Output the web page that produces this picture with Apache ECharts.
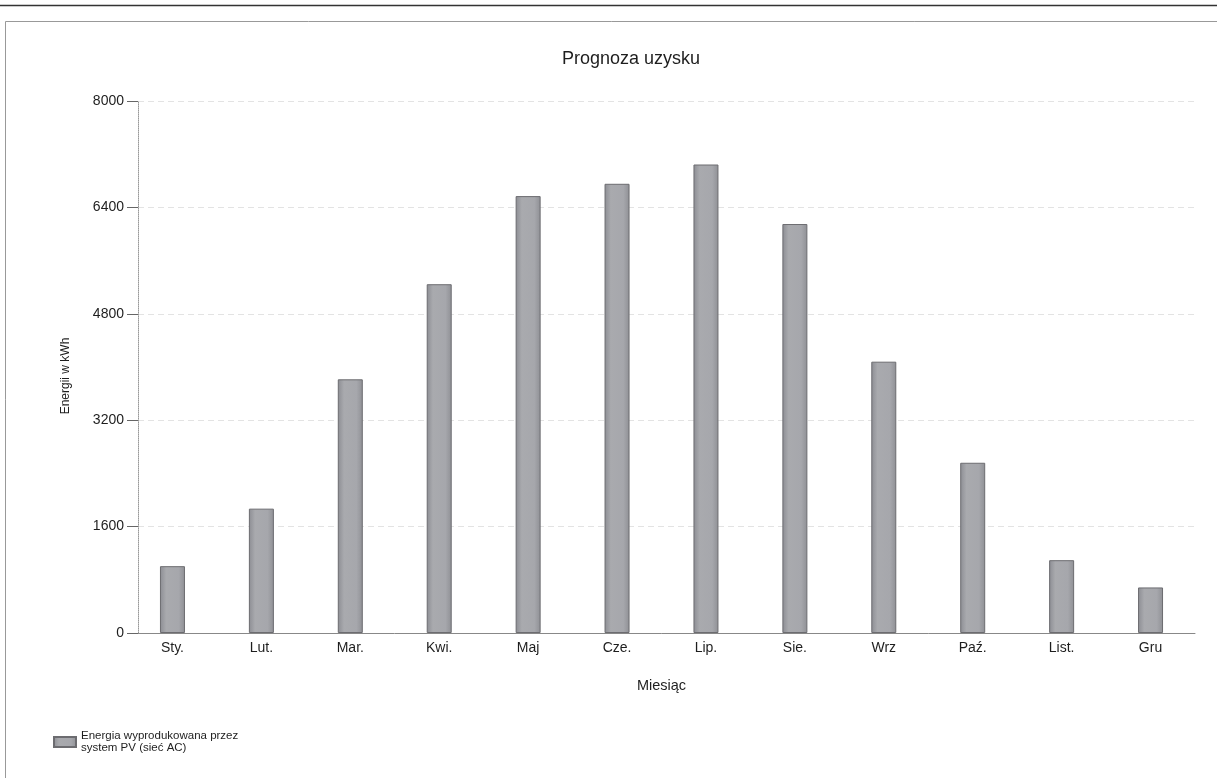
<!DOCTYPE html>
<html>
<head>
<meta charset="utf-8">
<title>Prognoza uzysku</title>
<script src="https://cdn.jsdelivr.net/npm/echarts@6/dist/echarts.min.js"></script>
<style>
  html, body { margin: 0; padding: 0; background: #fff; }
  #chart { width: 1217px; height: 778px; }
</style>
</head>
<body>
<div id="chart"></div>
<script>
// Monthly forecast of energy produced by the PV system (kWh)
const months = ['Sty.', 'Lut.', 'Mar.', 'Kwi.', 'Maj', 'Cze.', 'Lip.', 'Sie.', 'Wrz', 'Paź.', 'List.', 'Gru'];
const energyKWh = [1005, 1870, 3815, 5245, 6570, 6755, 7045, 6150, 4080, 2560, 1095, 685];
const yTicks = { min: 0, max: 8000, interval: 1600 };
const seriesName = 'Energia wyprodukowana przez\nsystem PV (sieć AC)';

const font = '"Liberation Sans", Arial, sans-serif';
const textColor = '#1e1e1e';

const chart = echarts.init(document.getElementById('chart'), null, { renderer: 'canvas' });

chart.setOption({
  backgroundColor: '#ffffff',
  animation: false,
  title: {
    text: 'Prognoza uzysku',
    left: 626,
    top: 45,
    textAlign: 'center',
    textStyle: { fontFamily: font, fontSize: 18, fontWeight: 'normal', color: textColor }
  },
  graphic: [
    // page frame lines
    { type: 'line', shape: { x1: 0, y1: 5.5, x2: 1217, y2: 5.5 }, style: { stroke: '#333', lineWidth: 1.5 }, silent: true },
    { type: 'line', shape: { x1: 5.5, y1: 21.5, x2: 1217, y2: 21.5 }, style: { stroke: '#999', lineWidth: 1 }, silent: true },
    { type: 'line', shape: { x1: 5.5, y1: 21.5, x2: 5.5, y2: 778 }, style: { stroke: '#999', lineWidth: 1 }, silent: true }
  ],
  legend: {
    left: 48,
    top: 725,
    orient: 'vertical',
    itemWidth: 22,
    itemHeight: 10,
    icon: 'rect',
    textStyle: { fontFamily: font, fontSize: 11.5, color: textColor, lineHeight: 12 },
    data: [seriesName]
  },
  grid: { left: 128, right: 22, top: 101, bottom: 145, containLabel: false },
  xAxis: {
    type: 'category',
    data: months,
    name: 'Miesiąc',
    nameLocation: 'middle',
    nameGap: 45,
    nameTextStyle: { fontFamily: font, fontSize: 14.5, color: textColor },
    axisLine: { lineStyle: { color: '#888', width: 1 } },
    axisTick: { alignWithLabel: true, length: 5, lineStyle: { color: '#999', type: 'dotted' } },
    axisLabel: { fontFamily: font, fontSize: 14, color: textColor, margin: 8 }
  },
  yAxis: {
    type: 'value',
    min: yTicks.min,
    max: yTicks.max,
    interval: yTicks.interval,
    offset: -10,
    name: 'Energii w kWh',
    nameLocation: 'middle',
    nameGap: 66,
    nameTextStyle: { fontFamily: font, fontSize: 12, color: textColor, padding: [0, 18, 0, 0] },
    axisLine: { show: true, lineStyle: { color: '#999', type: 'dotted', width: 1 } },
    axisTick: { show: true, length: 11, lineStyle: { color: '#666' } },
    axisLabel: { fontFamily: font, fontSize: 14, color: textColor, margin: 14, formatter: v => String(v) },
    splitLine: { show: true, lineStyle: { color: '#e3e3e3', type: [6, 4], width: 1 } }
  },
  series: [{
    name: seriesName,
    type: 'bar',
    data: energyKWh,
    barWidth: 25,
    itemStyle: {
      color: new echarts.graphic.LinearGradient(0, 0, 1, 0, [
        { offset: 0, color: '#8c8d93' },
        { offset: 0.25, color: '#a9aaae' },
        { offset: 0.75, color: '#a6a7ac' },
        { offset: 1, color: '#8f9095' }
      ]),
      borderColor: '#6c6c70',
      borderWidth: 1
    }
  }]
});
</script>
</body>
</html>
